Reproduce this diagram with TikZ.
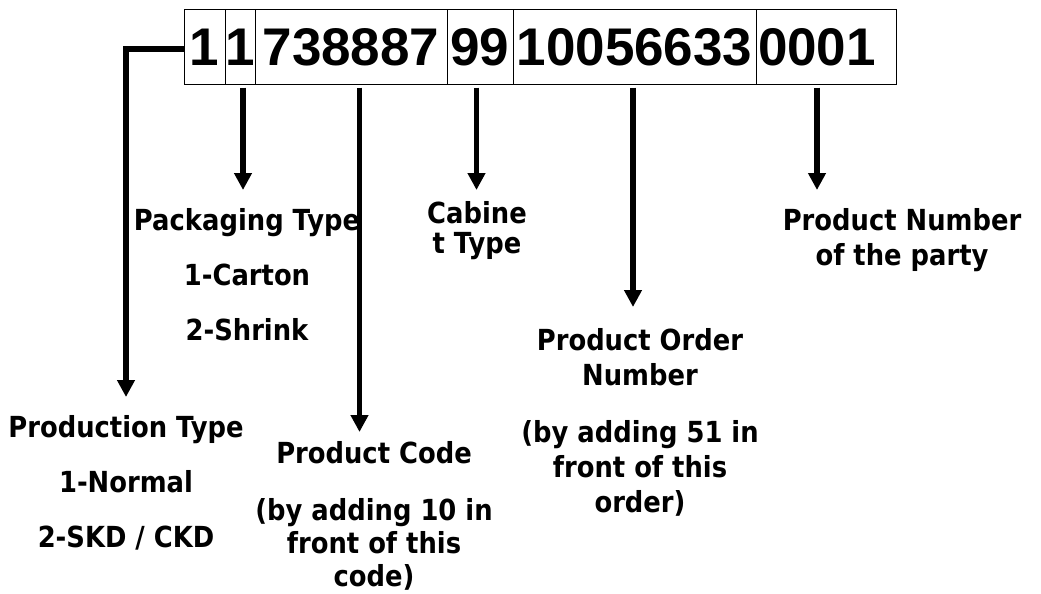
\documentclass[tikz,border=0pt]{standalone}
\usepackage{fontspec}
\usetikzlibrary{arrows.meta}
\newfontfamily\lblfont{DejaVu Sans}[FakeStretch=0.89]
\newfontfamily\digfont{Liberation Sans}
\tikzset{
  cell/.style={draw=black, line width=1pt, minimum height=74pt, inner xsep=0pt, inner ysep=2pt,
    font=\digfont\bfseries\fontsize{53}{60}\selectfont},
  arr/.style={line width=5.5pt, -{Triangle[width=17pt,length=17pt]}},
  lbl/.style={anchor=north, inner sep=0pt, align=center,
    font=\lblfont\bfseries\fontsize{29}{34}\selectfont},
}
\begin{document}
\begin{tikzpicture}[x=1pt,y=-1pt]
\path[use as bounding box] (0,0) rectangle (1041,594);
% code cells
\node[cell, minimum width=41pt]  (c1) at (204.5,47) {1};
\node[cell, minimum width=30pt]  (c2) at (240,47) {1};
\node[cell, minimum width=192pt] (c3) at (351,47) {738887};
\node[cell, minimum width=66pt]  (c4) at (480,47) {99};
\node[cell, minimum width=243pt] (c5) at (634.5,47) {10056633};
\node[cell, text width=136pt, inner xsep=2pt, align=left] (c6) at (826,47) {0001};
% arrow tips
\coordinate (ptTip) at (126,397);
\coordinate (pkTip) at (243,190);
\coordinate (pcTip) at (359.5,432);
\coordinate (cbTip) at (476.5,190);
\coordinate (poTip) at (633,307);
\coordinate (pnTip) at (817,190);
% labels
\node[lbl] (pt) at (126,415) {Production Type\\[21pt]1-Normal\\[21pt]2-SKD / CKD};
\node[lbl] (pk) at (247,208) {Packaging Type\\[21pt]1-Carton\\[21pt]2-Shrink};
\node[lbl, font=\lblfont\bfseries\fontsize{29}{30}\selectfont] (cb) at (477,201) {Cabine\\t Type};
\node[lbl, font=\lblfont\bfseries\fontsize{29}{33}\selectfont] (pc) at (374,441) {Product Code\\[24pt](by adding 10 in\\front of this\\code)};
\node[lbl, font=\lblfont\bfseries\fontsize{29}{35}\selectfont] (po) at (640,328) {Product Order\\Number\\[22pt](by adding 51 in\\front of this\\order)};
\node[lbl, font=\lblfont\bfseries\fontsize{29}{35}\selectfont] (pn) at (902,208) {Product Number\\of the party};
% connectors
\draw[arr] ([yshift=-2pt]c1.west) -| (ptTip);
\draw[arr, shorten <=3pt] (c2.south -| pkTip) -- (pkTip);
\draw[arr, shorten <=3pt] (c3.south -| pcTip) -- (pcTip);
\draw[arr, shorten <=3pt] (c4.south -| cbTip) -- (cbTip);
\draw[arr, shorten <=3pt] (c5.south -| poTip) -- (poTip);
\draw[arr, shorten <=3pt] (c6.south -| pnTip) -- (pnTip);
\end{tikzpicture}
\end{document}
